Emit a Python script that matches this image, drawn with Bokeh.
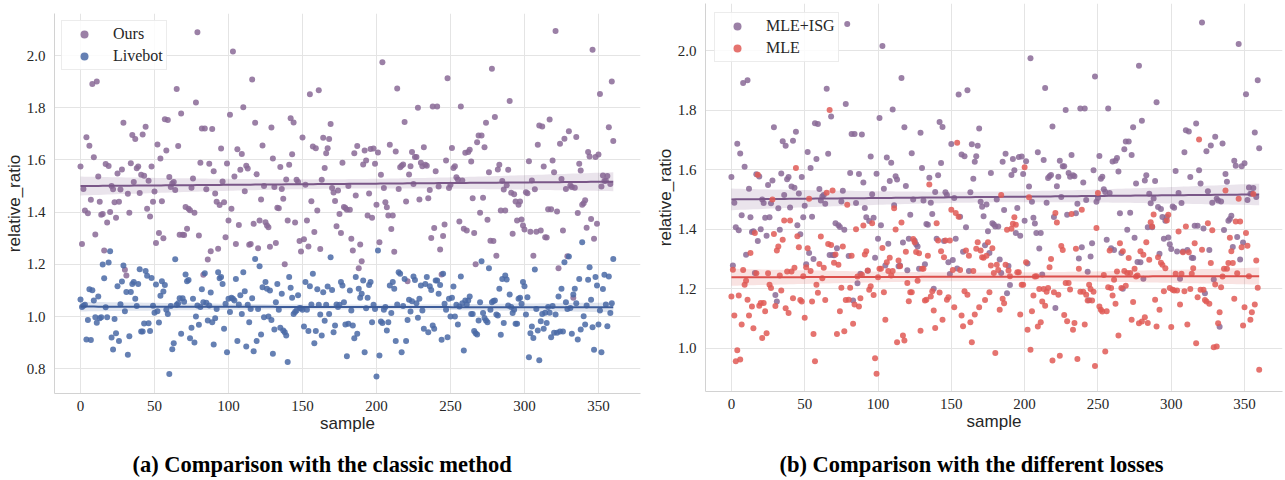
import numpy as np
from bokeh.plotting import figure
from bokeh.models import FixedTicker, PrintfTickFormatter, Range1d
from bokeh.layouts import row, column
from bokeh.core.properties import value
from bokeh.embed import file_html
from bokeh.resources import INLINE

# ---------------- data ----------------
ours = [
    1.575, 1.278, 1.489, 1.406, 1.687, 1.396, 1.654, 1.447, 1.891, 1.61,
    1.314, 1.90, 1.536, 1.44, 1.39, 1.393, 1.253, 1.584, 1.36, 1.577,
    1.40, 1.50, 1.488, 1.438, 1.378, 1.548, 1.44, 1.487, 1.563, 1.742,
    1.179, 1.157, 1.47, 1.398, 1.587, 1.695, 1.515, 1.68, 1.568, 1.575,
    1.473, 1.543, 1.697, 1.539, 1.727, 1.413, 1.52, 1.383, 1.575, 1.44,
    1.479, 1.282, 1.659, 1.32, 1.605, 1.442, 1.30, 1.756, 1.636, 1.753,
    1.535, 1.496, 1.51, 1.515, 1.485, 1.872, 1.653, 1.313, 1.778, 1.313,
    1.312, 1.42, 1.336, 1.413, 1.407, 1.493, 1.529, 1.398, 1.82, 2.089,
    1.31, 1.589, 1.72, 1.16, 1.72, 1.488, 1.218, 1.585, 1.25, 1.718,
    1.557, 1.471, 1.44, 1.26, 1.427, 1.644, 1.517, 1.438, 1.304, 1.586,
    1.368, 1.773, 1.413, 2.015, 1.536, 1.278, 1.641, 1.351, 1.562, 1.623,
    1.802, 1.48, 1.578, 1.567, 1.275, 1.278, 1.908, 1.355, 1.742, 1.545,
    1.262, 1.368, 1.448, 1.655, 1.5, 1.361, 1.349, 1.342, 1.267, 1.724,
    1.605, 1.496, 1.282, 1.417, 1.415, 1.573, 1.489, 1.451, 1.2, 1.525,
    1.368, 1.581, 1.76, 1.622, 1.743, 1.36, 1.524, 1.515, 1.289, 1.249,
    1.686, 1.296, 1.505, 1.368, 1.268, 1.852, 1.442, 1.651, 1.324, 1.645,
    1.406, 1.867, 1.259, 1.524, 1.685, 1.569, 1.626, 1.645, 1.68, 1.738,
    1.492, 1.475, 1.443, 1.346, 1.483, 1.393, 1.32, 1.589, 1.42, 1.416,
    1.409, 1.5, 1.409, 1.298, 1.253, 1.626, 1.464, 1.653, 1.185, 1.276,
    1.212, 1.582, 1.636, 1.598, 1.387, 1.471, 1.642, 1.378, 1.644, 1.585,
    1.428, 1.628, 1.285, 1.543, 1.974, 1.492, 1.438, 1.419, 1.387, 1.658,
    1.335, 1.387, 1.248, 1.632, 1.874, 1.489, 1.572, 1.578, 1.582, 1.745,
    1.441, 1.135, 1.544, 1.576, 1.63, 1.508, 1.611, 1.611, 1.8, 1.448,
    1.589, 1.576, 1.649, 1.581, 1.578, 1.453, 1.485, 1.301, 1.805, 1.339,
    1.557, 1.805, 1.498, 1.257, 1.161, 1.308, 1.353, 1.598, 1.913, 1.492,
    1.505, 1.646, 1.569, 1.576, 1.534, 1.525, 1.364, 1.805, 1.521, 1.336,
    1.627, 1.33, 1.63, 1.639, 1.594, 1.453, 1.32, 1.2, 1.668, 1.694,
    1.398, 1.694, 1.455, 1.649, 1.742, 1.371, 1.553, 1.29, 1.949, 1.289,
    1.764, 1.233, 1.563, 1.581, 1.406, 1.519, 1.487, 1.406, 1.503, 1.562,
    1.826, 1.474, 1.317, 1.468, 1.441, 1.368, 1.428, 1.441, 1.372, 1.349,
    1.333, 1.476, 1.472, 1.595, 1.325, 1.521, 1.233, 1.488, 1.325, 1.658,
    1.732, 1.33, 1.728, 1.575, 1.304, 1.303, 1.411, 1.755, 1.411, 1.598,
    1.553, 2.094, 1.402, 1.185, 1.662, 1.527, 1.33, 1.681, 1.489, 1.231,
    1.71, 1.502, 1.496, 1.072, 1.493, 1.688, 1.397, 1.585, 1.559, 1.428,
    1.434, 1.445, 1.34, 1.63, 1.613, 1.374, 2.022, 1.298, 1.611, 1.355,
    1.621, 1.853, 1.498, 1.54, 1.519, 1.52, 1.538, 1.725, 1.508, 1.9, 1.672,
]

livebot = [
    1.065, 1.036, 1.041, 1.045, 0.912, 0.987, 1.104, 0.91, 1.101, 1.061,
    0.997, 0.976, 1.077, 0.993, 0.997, 1.199, 1.147, 1.035, 0.997, 1.207,
    1.25, 0.92, 0.874, 0.99, 0.936, 1.116, 0.906, 1.047, 1.134, 1.195,
    1.02, 1.094, 0.853, 0.924, 1.094, 1.125, 1.132, 1.068, 1.04, 1.125,
    1.181, 0.943, 0.943, 0.973, 1.174, 1.156, 0.974, 0.944, 1.148, 1.041,
    1.014, 1.123, 1.02, 0.977, 1.08, 1.135, 1.096, 1.121, 1.026, 1.01,
    0.78, 1.04, 0.875, 0.898, 1.219, 1.045, 1.051, 1.07, 0.934, 1.07,
    1.057, 1.161, 1.135, 1.14, 0.917, 0.957, 1.068, 0.9, 1.0, 1.042,
    0.968, 1.036, 1.104, 1.055, 1.166, 1.053, 0.985, 1.042, 1.092, 0.978,
    0.893, 0.993, 1.029, 1.17, 1.147, 1.151, 1.125, 0.953, 1.049, 0.863,
    1.068, 1.017, 1.072, 1.068, 1.061, 1.144, 0.906, 1.046, 1.081, 1.01,
    1.17, 1.097, 0.885, 1.045, 0.978, 1.029, 1.07, 0.867, 1.22, 0.906,
    1.029, 1.193, 0.931, 1.112, 0.997, 1.132, 1.106, 1.0, 1.1, 0.987,
    0.857, 0.95, 1.055, 1.125, 1.026, 0.957, 1.087, 0.946, 0.94, 0.927,
    0.826, 1.151, 1.11, 1.072, 1.01, 1.017, 1.023, 1.081, 1.033, 1.032,
    1.026, 0.962, 1.132, 1.026, 0.944, 1.116, 1.046, 1.164, 0.898, 0.944,
    1.104, 1.045, 1.008, 0.927, 1.093, 0.984, 1.045, 1.115, 1.01, 1.227,
    1.102, 0.94, 0.966, 1.046, 1.036, 1.045, 1.132, 1.119, 1.055, 0.969,
    0.848, 0.972, 1.1, 1.023, 0.966, 0.917, 1.151, 0.934, 1.106, 1.072,
    1.087, 1.138, 0.863, 1.032, 1.072, 1.121, 1.132, 0.978, 1.045, 1.029,
    0.77, 1.253, 0.851, 0.981, 0.975, 1.026, 1.036, 0.946, 0.978, 1.119,
    1.013, 1.132, 1.106, 0.906, 1.046, 1.17, 1.164, 0.863, 1.04, 1.144,
    0.906, 0.987, 1.064, 1.019, 1.058, 1.153, 1.14, 1.051, 0.995, 1.068,
    1.119, 1.023, 0.953, 1.125, 1.151, 0.94, 1.116, 1.102, 0.966, 0.953,
    1.138, 1.138, 1.087, 1.121, 0.911, 1.164, 1.049, 1.026, 0.921, 1.068,
    1.0, 1.072, 1.115, 1.0, 1.045, 0.969, 1.038, 1.153, 1.051, 0.87,
    1.061, 1.046, 1.061, 1.077, 1.01, 1.01, 0.944, 0.936, 0.931, 0.985,
    1.055, 1.212, 1.013, 0.994, 0.985, 0.978, 1.185, 1.026, 1.055, 1.059,
    1.061, 1.008, 1.004, 1.106, 0.93, 1.144, 0.975, 1.157, 1.142, 1.042,
    1.084, 1.036, 1.013, 1.026, 0.972, 0.972, 1.068, 1.072, 1.049, 1.132,
    1.116, 1.008, 1.074, 0.844, 0.936, 0.962, 0.918, 1.18, 1.029, 0.946,
    0.832, 0.982, 1.01, 0.953, 1.014, 0.975, 1.036, 1.014, 0.921, 1.04,
    0.938, 1.008, 0.938, 1.077, 0.943, 1.106, 0.943, 1.208, 1.055, 1.029,
    1.23, 1.033, 0.934, 1.084, 1.106, 1.051, 0.912, 1.144, 0.95, 1.285,
    1.001, 0.969, 1.042, 1.141, 1.189, 1.064, 0.959, 0.873, 1.151, 1.119,
    0.969, 1.023, 0.863, 1.105, 1.16, 1.046, 0.963, 1.153, 1.013, 1.051, 1.22,
]

mle_isg = ours  # same run drawn in both panels

mle = [
    1.174, 1.264, 1.11, 0.956, 0.993, 1.177, 0.962, 1.08, 1.263, 1.213,
    1.227, 1.163, 1.11, 1.32, 1.14, 1.067, 1.387, 1.252, 1.583, 1.143,
    1.152, 1.034, 1.152, 1.124, 1.05, 1.252, 1.213, 1.202, 1.5, 1.384,
    1.142, 1.328, 1.342, 1.244, 1.194, 1.364, 1.429, 1.134, 1.258, 1.118,
    1.429, 1.258, 1.168, 1.27, 1.605, 1.376, 1.339, 1.162, 1.157, 1.242,
    1.102, 1.272, 1.336, 1.502, 1.259, 1.157, 1.048, 0.956, 1.213, 1.186,
    1.283, 1.375, 1.235, 1.27, 1.162, 1.522, 1.35, 1.8, 1.347, 1.53,
    1.287, 1.315, 1.048, 1.28, 1.124, 1.203, 1.342, 1.057, 1.162, 1.482,
    1.163, 1.203, 1.311, 1.082, 1.147, 1.4, 1.241, 1.14, 1.168, 1.247,
    1.412, 1.315, 1.326, 1.261, 1.196, 1.208, 1.42, 1.179, 0.966, 0.914,
    1.238, 1.267, 1.267, 1.337, 1.188, 1.096, 1.289, 1.259, 1.304, 1.244,
    1.259, 1.47, 1.399, 1.02, 1.295, 1.275, 1.422, 1.043, 1.026, 1.324,
    1.219, 1.158, 1.188, 1.188, 1.367, 1.356, 1.323, 1.227, 1.319, 1.059,
    1.267, 1.267, 1.16, 1.163, 1.311, 1.55, 1.174, 1.191, 1.127, 1.068,
    1.42, 1.362, 1.187, 1.326, 1.096, 1.306, 1.362, 1.163, 1.171, 1.362,
    1.465, 1.263, 1.138, 1.454, 1.69, 1.442, 1.263, 1.11, 1.074, 1.191,
    1.328, 1.18, 1.311, 1.087, 1.02, 1.259, 1.113, 1.334, 1.356, 1.138,
    1.328, 1.306, 1.304, 1.162, 1.311, 1.356, 1.188, 1.278, 1.336, 1.253,
    0.984, 1.28, 1.263, 1.129, 1.515, 1.166, 1.151, 1.28, 1.398, 1.261,
    1.242, 1.401, 1.418, 1.44, 1.415, 1.255, 1.255, 1.113, 1.213, 1.213,
    1.608, 1.289, 1.062, 1.507, 0.995, 1.124, 1.177, 1.241, 1.242, 1.073,
    1.199, 1.087, 1.157, 1.199, 1.143, 1.19, 1.202, 1.272, 1.3, 0.959,
    1.188, 1.454, 1.422, 1.18, 0.975, 1.343, 1.33, 1.112, 1.219, 1.091,
    1.219, 1.197, 1.451, 1.062, 1.085, 1.334, 0.964, 1.267, 1.19, 1.465,
    1.19, 1.08, 1.18, 1.16, 1.213, 1.199, 1.16, 1.19, 0.94, 1.404,
    1.521, 1.14, 1.129, 1.123, 1.246, 0.989, 1.124, 1.205, 1.328, 1.202,
    1.177, 1.23, 1.149, 1.258, 1.043, 1.353, 1.202, 1.326, 1.259, 1.21,
    1.253, 1.303, 1.253, 1.096, 1.155, 1.267, 1.241, 1.244, 1.084, 1.326,
    1.09, 1.314, 1.104, 1.356, 1.085, 1.297, 1.423, 1.409, 1.449, 1.163,
    1.073, 1.306, 1.129, 1.287, 1.28, 1.191, 1.269, 1.429, 1.448, 1.202,
    1.071, 1.196, 1.194, 1.25, 1.194, 1.392, 1.147, 1.25, 1.322, 1.191,
    1.409, 1.08, 1.322, 1.199, 1.25, 1.269, 1.353, 1.017, 1.171, 1.701,
    1.196, 1.331, 1.196, 1.162, 1.157, 1.42, 1.149, 1.286, 1.396, 1.003,
    1.214, 1.006, 1.084, 1.121, 1.205, 1.241, 1.267, 1.53, 1.267, 1.286,
    1.371, 1.326, 1.286, 1.166, 1.426, 1.252, 1.502, 1.426, 1.339, 1.076,
    1.138, 1.387, 1.344, 1.242, 1.096, 1.121, 1.518, 1.147, 1.295, 1.203, 0.928,
]

x_ticks = [0, 50, 100, 150, 200, 250, 300, 350]
left_y_ticks = [0.8, 1.0, 1.2, 1.4, 1.6, 1.8, 2.0]
right_y_ticks = [1.0, 1.2, 1.4, 1.6, 1.8, 2.0]
left_labels = ["Ours", "Livebot"]
right_labels = ["MLE+ISG", "MLE"]
captions = ["(a) Comparison with the classic method",
            "(b) Comparison with the different losses"]
x_label = "sample"
y_label = "relative_ratio"

PURPLE, PURPLE_LINE = "#8a6a97", "#7a5788"
BLUE, BLUE_LINE = "#4a6aa6", "#3d5c99"
RED, RED_LINE = "#e05a56", "#dc4f4c"

SERIF = "Liberation Serif"
SANS = "Liberation Sans"


def fit_band(values):
    y = np.asarray(values, dtype=float)
    x = np.arange(len(y), dtype=float)
    n = len(y)
    b, a = np.polyfit(x, y, 1)
    xs = np.linspace(x.min(), x.max(), 120)
    yhat = a + b * xs
    resid = y - (a + b * x)
    s = np.sqrt(np.sum(resid ** 2) / (n - 2))
    sxx = np.sum((x - x.mean()) ** 2)
    se = s * np.sqrt(1.0 / n + (xs - x.mean()) ** 2 / sxx)
    t = 1.967
    return xs, yhat, yhat - t * se, yhat + t * se


def make_panel(width, height, top, frame_h, left, right, xr, yr, yticks,
               series, legend_margin):
    p = figure(width=width, height=height, x_range=Range1d(*xr), y_range=Range1d(*yr),
               output_backend="svg", toolbar_location=None, title=None,
               min_border_left=left, min_border_right=right,
               min_border_top=top, min_border_bottom=height - top - frame_h)
    p.outline_line_color = None
    p.background_fill_color = "white"
    p.border_fill_color = "white"

    p.xaxis.ticker = FixedTicker(ticks=x_ticks)
    p.yaxis.ticker = FixedTicker(ticks=yticks)
    p.yaxis.formatter = PrintfTickFormatter(format="%.1f")
    p.xgrid.ticker = FixedTicker(ticks=x_ticks)
    p.ygrid.ticker = FixedTicker(ticks=yticks)
    p.grid.grid_line_color = "#e4e4e4"
    p.grid.grid_line_width = 1

    for ax in (p.xaxis, p.yaxis):
        ax.axis_line_color = "#d2d2d2"
        ax.axis_line_width = 1
        ax.major_tick_line_color = None
        ax.minor_tick_line_color = None
        ax.major_tick_out = 0
        ax.major_tick_in = 0
        ax.minor_tick_out = 0
        ax.minor_tick_in = 0
        ax.major_label_text_font = SERIF
        ax.major_label_text_font_size = "15px"
        ax.major_label_text_color = "#262626"
        ax.axis_label_text_font = SANS
        ax.axis_label_text_font_size = "17px"
        ax.axis_label_text_font_style = "normal"
        ax.axis_label_text_color = "#262626"
    p.xaxis.axis_label = x_label
    p.yaxis.axis_label = y_label
    p.xaxis.major_label_standoff = 7
    p.xaxis.axis_label_standoff = 0
    p.yaxis.major_label_standoff = 9
    p.yaxis.axis_label_standoff = 0

    for values, label, col, lcol in series:
        xs = list(range(len(values)))
        p.scatter(xs, values, size=6, fill_color=col, fill_alpha=0.85,
                  line_color=None, legend_label=label)
        bx, by, lo, hi = fit_band(values)
        p.varea(x=bx, y1=lo, y2=hi, fill_color=lcol, fill_alpha=0.16)
        p.line(bx, by, line_color=lcol, line_width=2)

    lg = p.legend[0]
    lg.location = "top_left"
    lg.margin = legend_margin
    lg.padding = 3
    lg.spacing = 2
    lg.label_height = 20
    lg.glyph_height = 20
    lg.glyph_width = 38
    lg.label_standoff = 10
    lg.label_text_font = SERIF
    lg.label_text_font_size = "16px"
    lg.label_text_color = "#262626"
    lg.border_line_color = "#d9d9d9"
    lg.border_line_width = 1
    lg.background_fill_color = "white"
    lg.background_fill_alpha = 0.85
    return p


def make_caption(width, height, text, frame_left, frame_right, start_px, mid_from_top):
    # in a column Bokeh lines this frame up with the panel frame above it,
    # so the x range is expressed in page pixels of that frame
    c = figure(width=width, height=height, x_range=Range1d(frame_left, frame_right),
               y_range=Range1d(0, height),
               x_axis_type=None, y_axis_type=None, output_backend="svg",
               toolbar_location=None, title=None, min_border=0,
               min_border_left=0, min_border_right=0, min_border_top=0, min_border_bottom=0)
    c.outline_line_color = None
    c.border_fill_color = "white"
    c.text(x=[start_px], y=[height - mid_from_top], text=[text],
           text_font=value(SERIF), text_font_size=value("22.5px"), text_font_style="bold",
           text_align="left", text_baseline="middle", text_color="black")
    return c


left = make_panel(650, 440, 13, 380, 54, 10, (-17.57, 378.4), (0.705, 2.161), left_y_ticks,
                  [(ours, left_labels[0], PURPLE, PURPLE_LINE),
                   (livebot, left_labels[1], BLUE, BLUE_LINE)], 7)
right = make_panel(634, 440, 3, 388, 55, 2, (-17.67, 375.9), (0.8546, 2.158), right_y_ticks,
                   [(mle_isg, right_labels[0], PURPLE, PURPLE_LINE),
                    (mle, right_labels[1], RED, RED_LINE)], 9)

cap_left = make_caption(650, 40, captions[0], 54, 640, 132, 24)
cap_right = make_caption(634, 40, captions[1], 705, 1282, 779, 24)

layout = row(column(left, cap_left), column(right, cap_right))
open("out.html", "w").write(file_html(layout, INLINE))
